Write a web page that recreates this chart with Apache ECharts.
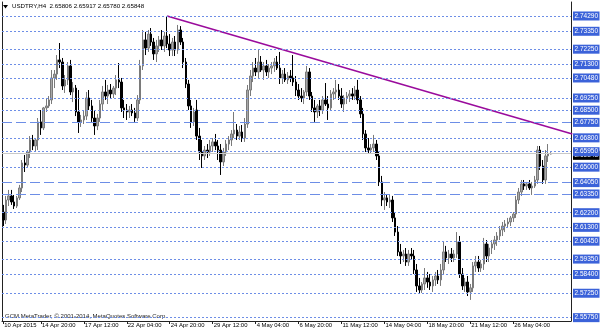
<!DOCTYPE html>
<html><head><meta charset="utf-8">
<script src="https://cdn.jsdelivr.net/npm/echarts@6/dist/echarts.min.js"></script>
<style>html,body{margin:0;padding:0;background:#fff}#c{width:600px;height:333px}</style>
</head><body><div id="c"></div>
<script>
// ---- data ----
const tradingDays = ['10 Apr','13 Apr','14 Apr','15 Apr','16 Apr','17 Apr','20 Apr','21 Apr','22 Apr','23 Apr','24 Apr',
  '27 Apr','28 Apr','29 Apr','30 Apr','1 May','4 May','5 May','6 May','7 May','8 May','11 May','12 May','13 May','14 May',
  '15 May','18 May','19 May','20 May','21 May','22 May','25 May','26 May','27 May','28 May','29 May'];
const barHours = ['00:00','04:00','08:00','12:00','16:00','20:00'];
const firstLabel = '10 Apr 2015';

const open = [
2.6224,2.6175,2.6298,2.6323,2.6286,2.6261,2.6311,2.6372,2.6526,2.6513,
2.6593,2.6667,2.6630,2.6667,2.6778,2.6741,2.6864,2.6876,2.6913,2.7048,
2.7072,2.7159,2.7146,2.6999,2.7036,2.7122,2.6962,2.6986,2.6839,2.6778,
2.6790,2.6814,2.6925,2.6876,2.6802,2.6753,2.6802,2.6888,2.6962,2.6937,
2.6974,2.6950,2.6986,2.7036,2.7023,2.6864,2.6851,2.6839,2.6851,2.6833,
2.6802,2.6913,2.7122,2.7282,2.7232,2.7318,2.7269,2.7196,2.7245,2.7282,
2.7245,2.7306,2.7257,2.7220,2.7269,2.7220,2.7343,2.7269,2.7146,2.7011,
2.6876,2.6778,2.6851,2.6691,2.6593,2.6569,2.6605,2.6593,2.6630,2.6655,
2.6630,2.6605,2.6532,2.6593,2.6642,2.6667,2.6704,2.6728,2.6691,2.6716,
2.6679,2.6765,2.6974,2.7060,2.7109,2.7085,2.7146,2.7097,2.7122,2.7085,
2.7109,2.7122,2.7146,2.7109,2.7048,2.7072,2.7036,2.7060,2.7048,2.7023,
2.6974,2.6937,2.6925,2.6962,2.7085,2.6937,2.6864,2.6839,2.6876,2.6851,
2.6913,2.6888,2.6864,2.6950,2.6962,2.6974,2.6937,2.6888,2.6925,2.6937,
2.6950,2.6937,2.6974,2.6913,2.6827,2.6704,2.6618,2.6605,2.6618,2.6642,
2.6569,2.6409,2.6298,2.6311,2.6286,2.6298,2.6188,2.6101,2.5979,2.5954,
2.5966,2.5917,2.5966,2.5954,2.5868,2.5770,2.5745,2.5782,2.5819,2.5794,
2.5770,2.5807,2.5831,2.5807,2.5868,2.5979,2.5942,2.5966,2.5942,2.5966,
2.6040,2.5843,2.5770,2.5794,2.5733,2.5758,2.5893,2.5917,2.5880,2.5905,
2.6028,2.5954,2.6003,2.6028,2.6052,2.6077,2.6114,2.6138,2.6151,2.6163,
2.6188,2.6212,2.6298,2.6347,2.6397,2.6384,2.6397,2.6372,2.6384,2.6421,
2.6605,2.6507,2.6421,2.6569,2.65806];
const high = [
2.6268,2.6323,2.6360,2.6360,2.6329,2.6323,2.6391,2.6544,2.6575,2.6605,
2.6691,2.6698,2.6679,2.6802,2.6851,2.6870,2.6925,2.6937,2.7097,2.7097,
2.7189,2.7263,2.7171,2.7066,2.7146,2.7159,2.7023,2.7005,2.6974,2.6821,
2.6851,2.6962,2.6974,2.6913,2.6851,2.6827,2.6913,2.6999,2.7036,2.7005,
2.7011,2.6999,2.7066,2.7140,2.7048,2.6913,2.6888,2.6876,2.6888,2.6864,
2.6943,2.7159,2.7343,2.7331,2.7343,2.7355,2.7294,2.7282,2.7306,2.7343,
2.7331,2.7429,2.7318,2.7294,2.7306,2.7374,2.7367,2.7294,2.7171,2.7036,
2.6913,2.6864,2.6913,2.6741,2.6667,2.6630,2.6642,2.6667,2.6679,2.6704,
2.6667,2.6642,2.6618,2.6667,2.6691,2.6728,2.6839,2.6765,2.6753,2.6759,
2.6802,2.7005,2.7097,2.7146,2.7171,2.7220,2.7183,2.7146,2.7159,2.7134,
2.7146,2.7171,2.7183,2.7208,2.7097,2.7109,2.7085,2.7097,2.7189,2.7060,
2.7011,2.6986,2.6974,2.7122,2.7109,2.6962,2.6913,2.6888,2.6913,2.6937,
2.7017,2.6937,2.6974,2.6986,2.7036,2.7011,2.6986,2.6943,2.6962,2.6974,
2.6986,2.6999,2.7036,2.6937,2.6864,2.6728,2.6679,2.6642,2.6698,2.6667,
2.6593,2.6446,2.6347,2.6335,2.6329,2.6323,2.6224,2.6138,2.6028,2.5991,
2.6003,2.5991,2.6003,2.5991,2.5905,2.5819,2.5794,2.5880,2.5856,2.5843,
2.5831,2.5856,2.5868,2.5905,2.6040,2.6016,2.5991,2.6003,2.5991,2.6101,
2.6077,2.5880,2.5819,2.5831,2.5782,2.5917,2.5954,2.5954,2.5930,2.6065,
2.6052,2.6028,2.6052,2.6077,2.6101,2.6138,2.6163,2.6175,2.6188,2.6200,
2.6224,2.6323,2.6372,2.6421,2.6421,2.6409,2.6421,2.6409,2.6446,2.6630,
2.6630,2.6544,2.6605,2.6642,2.65917];
const low = [
2.6138,2.6151,2.6261,2.6268,2.6243,2.6249,2.6298,2.6347,2.6470,2.6495,
2.6556,2.6605,2.6593,2.6605,2.6698,2.6728,2.6839,2.6864,2.6888,2.6986,
2.7036,2.7109,2.6974,2.6956,2.7005,2.6943,2.6900,2.6814,2.6710,2.6747,
2.6765,2.6790,2.6851,2.6778,2.6698,2.6728,2.6778,2.6851,2.6913,2.6888,
2.6925,2.6925,2.6943,2.6986,2.6839,2.6802,2.6790,2.6802,2.6814,2.6778,
2.6784,2.6888,2.7097,2.7189,2.7208,2.7245,2.7159,2.7146,2.7208,2.7220,
2.7208,2.7232,2.7183,2.7183,2.7183,2.7196,2.7251,2.7109,2.6986,2.6851,
2.6741,2.6753,2.6667,2.6544,2.6495,2.6544,2.6556,2.6569,2.6593,2.6605,
2.6544,2.6452,2.6507,2.6569,2.6605,2.6630,2.6679,2.6667,2.6667,2.6655,
2.6655,2.6741,2.6937,2.7023,2.7060,2.7048,2.7085,2.7036,2.7060,2.7048,
2.7072,2.7085,2.7097,2.7011,2.7011,2.7023,2.7011,2.7023,2.6999,2.6937,
2.6913,2.6900,2.6888,2.6937,2.6913,2.6839,2.6778,2.6802,2.6814,2.6827,
2.6876,2.6790,2.6851,2.6913,2.6925,2.6913,2.6864,2.6839,2.6888,2.6900,
2.6913,2.6913,2.6888,2.6802,2.6667,2.6593,2.6581,2.6581,2.6593,2.6544,
2.6384,2.6261,2.6237,2.6261,2.6249,2.6163,2.6077,2.5954,2.5905,2.5917,
2.5893,2.5893,2.5930,2.5843,2.5733,2.5721,2.5727,2.5745,2.5758,2.5745,
2.5733,2.5770,2.5782,2.5770,2.5843,2.5917,2.5905,2.5917,2.5917,2.5942,
2.5819,2.5745,2.5733,2.5708,2.5684,2.5733,2.5856,2.5856,2.5856,2.5868,
2.5917,2.5917,2.5966,2.5991,2.6016,2.6052,2.6077,2.6101,2.6126,2.6138,
2.6163,2.6188,2.6274,2.6323,2.6360,2.6360,2.6360,2.6329,2.6372,2.6397,
2.6483,2.6397,2.6397,2.6532,2.65780];
const close = [
2.6175,2.6298,2.6323,2.6286,2.6261,2.6311,2.6372,2.6526,2.6513,2.6593,
2.6667,2.6630,2.6667,2.6778,2.6741,2.6864,2.6876,2.6913,2.7048,2.7072,
2.7159,2.7146,2.6999,2.7036,2.7122,2.6962,2.6986,2.6839,2.6778,2.6790,
2.6814,2.6925,2.6876,2.6802,2.6753,2.6802,2.6888,2.6962,2.6937,2.6974,
2.6950,2.6986,2.7036,2.7023,2.6864,2.6851,2.6839,2.6851,2.6833,2.6802,
2.6913,2.7122,2.7282,2.7232,2.7318,2.7269,2.7196,2.7245,2.7282,2.7245,
2.7306,2.7257,2.7220,2.7269,2.7220,2.7343,2.7269,2.7146,2.7011,2.6876,
2.6778,2.6839,2.6691,2.6593,2.6569,2.6605,2.6593,2.6630,2.6655,2.6630,
2.6605,2.6532,2.6593,2.6642,2.6667,2.6704,2.6728,2.6691,2.6716,2.6679,
2.6765,2.6974,2.7060,2.7109,2.7085,2.7146,2.7097,2.7122,2.7085,2.7109,
2.7122,2.7146,2.7109,2.7048,2.7072,2.7036,2.7060,2.7048,2.7023,2.6974,
2.6937,2.6925,2.6962,2.7085,2.6937,2.6864,2.6839,2.6876,2.6851,2.6913,
2.6888,2.6864,2.6950,2.6962,2.6974,2.6937,2.6888,2.6925,2.6937,2.6950,
2.6937,2.6974,2.6913,2.6827,2.6704,2.6618,2.6605,2.6618,2.6642,2.6569,
2.6409,2.6298,2.6311,2.6286,2.6298,2.6188,2.6101,2.5979,2.5954,2.5966,
2.5917,2.5966,2.5954,2.5868,2.5770,2.5745,2.5782,2.5819,2.5794,2.5770,
2.5807,2.5831,2.5807,2.5868,2.5979,2.5942,2.5966,2.5942,2.5966,2.6040,
2.5843,2.5770,2.5794,2.5733,2.5758,2.5893,2.5917,2.5880,2.5905,2.6028,
2.5954,2.6003,2.6028,2.6052,2.6077,2.6114,2.6138,2.6151,2.6163,2.6188,
2.6212,2.6298,2.6347,2.6397,2.6384,2.6397,2.6372,2.6384,2.6421,2.6605,
2.6507,2.6421,2.6569,2.6581,2.65848];

const dottedLevels = [2.74290,2.73350,2.72250,2.71300,2.70480,2.69250,2.68500,2.66800,2.65950,2.65000,2.62200,2.61300,2.60450,2.59350,2.58400,2.57250,2.55750];
const dashedLevels = [2.67750,2.64050,2.63350];
const scaleTicks = [2.74650,2.73300,2.71950,2.70600,2.69250,2.67900,2.66550,2.65200,2.63850,2.62450,2.61100,2.59730,2.58380,2.57050];
const bidPrice = 2.65848;
const trendLine = [[61, 2.7429], [212, 2.6704]];
const titleText = 'USDTRY,H4  2.65806 2.65917 2.65780 2.65848';
const copyrightText = 'GCM MetaTrader, \u00A9 2001-2014, MetaQuotes Software Corp.';

// ---- build ----
const totalSlots = 212;
const categories = [];
tradingDays.forEach((d, k) => {
  barHours.forEach((h, j) => {
    if (k === 0 && j < 3) return;
    categories.push(d + ' ' + h);
  });
});
while (categories.length < totalSlots) categories.push('');
categories.length = totalSlots;

const candles = open.map((o, i) => [o, close[i], low[i], high[i]]);
const showLabel = (i) => i === 0 || (i >= 14 && i <= 204 && (i - 14) % 16 === 0);

const FONT = '"Liberation Sans", Arial, sans-serif';
const FS = 6.5;
const FSX = 5.9;
const lineBlue = '#6d8ee6';
const boxBlue = '#3b62d9';

const mlData = [];
scaleTicks.forEach(v => mlData.push({
  yAxis: v, lineStyle: {opacity: 0},
  label: {formatter: '-' + v.toFixed(5), color: '#000', distance: 0, fontSize: FS, fontFamily: FONT}
}));
mlData.push({
  yAxis: bidPrice, lineStyle: {color: '#c8c8c8', type: 'solid', width: 1},
  label: {formatter: bidPrice.toFixed(5), color: '#fff', backgroundColor: '#000', padding: [1.5, 1.5, 0.5, 1.5], distance: 2, fontSize: FS, fontFamily: FONT, offset: [0, 2]}
});
dottedLevels.forEach(v => mlData.push({
  yAxis: v, lineStyle: {color: lineBlue, type: [2, 2], width: 1},
  label: {formatter: v.toFixed(5), color: '#fff', backgroundColor: boxBlue, padding: [1.5, 1.5, 0.5, 1.5], distance: 2, fontSize: FS, fontFamily: FONT}
}));
dashedLevels.forEach(v => mlData.push({
  yAxis: v, lineStyle: {color: lineBlue, type: [10, 4], width: 1},
  label: {formatter: v.toFixed(5), color: '#fff', backgroundColor: boxBlue, padding: [1.5, 1.5, 0.5, 1.5], distance: 2, fontSize: FS, fontFamily: FONT}
}));

const chart = echarts.init(document.getElementById('c'), null, {renderer: 'canvas'});
chart.setOption({
  animation: false,
  backgroundColor: '#fff',
  grid: {left: 2, right: 29, top: 2, bottom: 12},
  xAxis: {
    type: 'category', data: categories, boundaryGap: true,
    axisLine: {show: true, lineStyle: {color: '#222', width: 1}},
    axisTick: {show: true, alignWithLabel: true, length: 3, interval: (i) => showLabel(i), lineStyle: {color: '#222'}},
    axisLabel: {
      interval: (i) => showLabel(i),
      formatter: (v, i) => (i === 0 ? firstLabel : v),
      align: 'left', margin: 1, padding: [0, 0, 0, 1],
      fontSize: FSX, fontFamily: FONT, color: '#000'
    },
    splitLine: {show: false}
  },
  yAxis: [
    {type: 'value', position: 'right', min: 2.55544, max: 2.75150, scale: true,
     axisLine: {show: true, lineStyle: {color: '#222'}}, axisTick: {show: false}, axisLabel: {show: false}, splitLine: {show: false}},
    {type: 'value', position: 'left', min: 2.55544, max: 2.75150, scale: true,
     axisLine: {show: true, lineStyle: {color: '#222'}}, axisTick: {show: false}, axisLabel: {show: false}, splitLine: {show: false}}
  ],
  series: [
    {
      type: 'candlestick', data: candles, barWidth: 2, yAxisIndex: 0,
      itemStyle: {color: '#a8a8a8', color0: '#000', borderColor: '#7a7a7a', borderColor0: '#000', borderWidth: 1},
      markLine: {silent: true, symbol: ['none', 'none'], animation: false, precision: 5,
        label: {position: 'end'}, data: mlData}
    },
    {
      type: 'line', data: trendLine, yAxisIndex: 0, symbol: 'none', silent: true, clip: true,
      lineStyle: {color: '#9a0b9c', width: 1.6}
    }
  ],
  graphic: [
    {type: 'polygon', shape: {points: [[3, 5], [8, 5], [5.5, 8.5]]}, style: {fill: '#000'}},
    {type: 'text', x: 12, y: 3, style: {text: titleText, fontSize: 6.2, fontFamily: FONT, fill: '#000'}},
    {type: 'text', x: 5, y: 313.5, style: {text: copyrightText, fontSize: 6, fontFamily: FONT, fill: '#222'}}
  ]
});
</script>
</body></html>
